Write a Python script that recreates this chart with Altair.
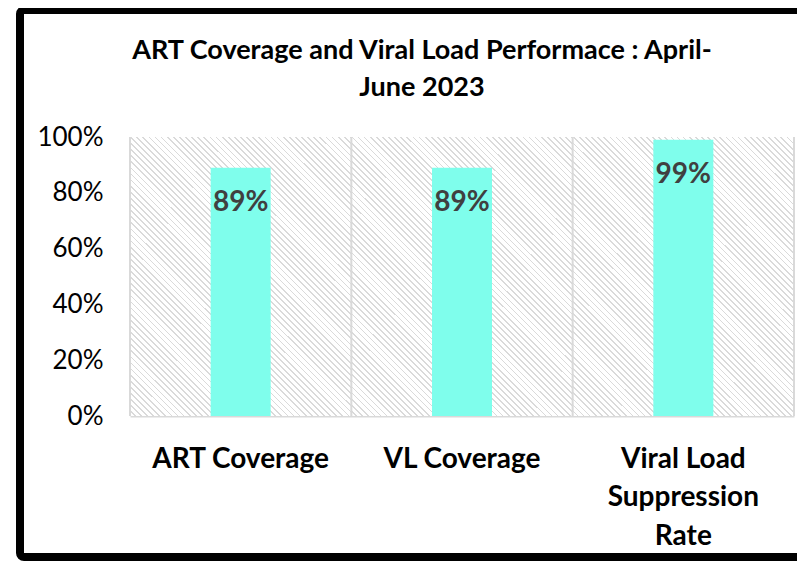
import altair as alt
import pandas as pd

categories = ["ART Coverage", "VL Coverage", "Viral Load Suppression Rate"]
values = [0.89, 0.89, 0.99]
y_ticks = [0, 0.2, 0.4, 0.6, 0.8, 1.0]
title_lines = ["ART Coverage and Viral Load Performace : April-", "June 2023"]

df = pd.DataFrame({"category": categories, "value": values, "full": [1.0] * len(categories)})

W, H = 664, 279
FONT = "Lato"

# hatch pattern via a striped linear gradient (styling only)
N = 82
stops = []
for i in range(N):
    a = i / N
    b = (i + 0.72) / N
    c = (i + 1) / N
    stops += [
        alt.GradientStop(offset=a, color="#ffffff"),
        alt.GradientStop(offset=b, color="#ffffff"),
        alt.GradientStop(offset=b, color="#dadada"),
        alt.GradientStop(offset=c, color="#dadada"),
    ]
hatch = alt.Gradient(gradient="linear", stops=stops, x1=0, y1=1, x2=0.872, y2=-0.101)

xscale = alt.Scale(paddingInner=0, paddingOuter=0)
label_expr = "datum.label == 'Viral Load Suppression Rate' ? ['Viral Load', 'Suppression', 'Rate'] : datum.label"
xaxis = alt.Axis(
    title=None, labelAngle=0, labelFont=FONT, labelFontSize=28, labelFontWeight="bold",
    labelColor="black", labelPadding=29, labelLineHeight=38.5, domainColor="#d9d9d9",
    domainWidth=2, ticks=False, grid=False, labelExpr=label_expr,
)
yscale = alt.Scale(domain=[0, 1], nice=False)
yaxis = alt.Axis(
    values=y_ticks, format=".0%", labelFont=FONT, labelFontSize=26, labelColor="black",
    domain=False, ticks=False, grid=False, labelPadding=27, title=None,
)

X = alt.X("category:N", sort=categories, scale=xscale, axis=xaxis)

bg = alt.Chart().mark_bar(color=hatch, width=alt.RelativeBandSize(1)).encode(
    x=X, y=alt.Y("full:Q", scale=yscale, axis=yaxis)
)

rules = alt.Chart().mark_rule(color="#d9d9d9", strokeWidth=2).encode(
    x=alt.X("category:N", sort=categories, bandPosition=0),
    y=alt.Y("full:Q"), y2=alt.datum(0),
)
rule_right = alt.Chart().mark_rule(color="#d9d9d9", strokeWidth=2).encode(
    x=alt.X("category:N", sort=categories, bandPosition=1),
    y=alt.Y("full:Q"), y2=alt.datum(0),
).transform_filter(alt.datum.category == categories[-1])

bars = alt.Chart().mark_bar(color="#7ffeec", size=60).encode(
    x=X, y=alt.Y("value:Q", scale=yscale)
)

labels = alt.Chart().mark_text(
    font=FONT, fontSize=28, fontWeight="bold", color="#404040", baseline="middle", dy=35
).encode(
    x=X, y=alt.Y("value:Q", scale=yscale), text=alt.Text("value:Q", format=".0%")
)

frame = alt.Chart(alt.Data(values=[{"f": 1}])).mark_rect(
    filled=False, stroke="black", strokeWidth=8, cornerRadius=4
).encode(
    x=alt.value(-110), x2=alt.value(690), y=alt.value(-127), y2=alt.value(420)
)

chart = alt.layer(bg, rules, rule_right, bars, labels, frame, data=df).properties(
    width=W, height=H,
    title=alt.TitleParams(
        text=title_lines, font=FONT, fontSize=27, fontWeight="bold", color="black",
        anchor="middle", dx=-40, offset=-96, lineHeight=37, frame="group",
    ),
    autosize=alt.AutoSizeParams(type="none"),
    padding={"left": 122, "top": 129, "right": 3, "bottom": 145},
).configure_view(stroke="transparent")

chart.save("out.html", embed_options={"renderer": "svg", "actions": False})
